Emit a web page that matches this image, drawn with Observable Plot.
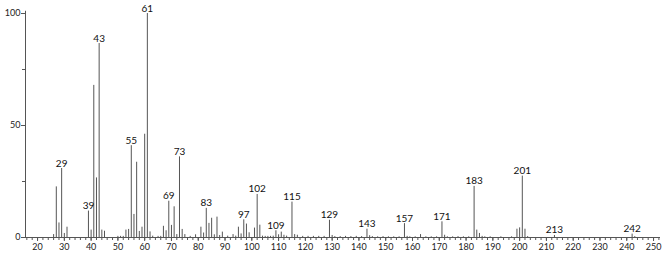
<!DOCTYPE html>
<html>
<head>
<meta charset="utf-8">
<script src="https://cdn.jsdelivr.net/npm/d3@7"></script>
<script src="https://cdn.jsdelivr.net/npm/@observablehq/plot@0.6"></script>
<style>
  html, body { margin: 0; padding: 0; background: #fff; }
  svg { display: block; }
</style>
</head>
<body>
<div id="chart"></div>
<script>
// m/z values and relative intensities
const mz = [
  26, 27, 28, 29, 30, 31, 39, 40, 41, 42, 43, 44, 45, 50, 51, 52, 53, 54, 55, 56, 57, 58, 59, 60, 61, 62, 63, 65, 66,
  67, 68, 69, 70, 71, 72, 73, 74, 75, 77, 79, 81, 82, 83, 84, 85, 86, 87, 88, 89, 91, 93, 94, 95, 96, 97, 98, 99,
  101, 102, 103, 104, 105, 106, 107, 108, 109, 110, 111, 112, 113, 115, 116, 117, 119, 121, 123, 125, 127, 129, 130,
  131, 133, 135, 137, 139, 141, 143, 144, 145, 147, 149, 151, 153, 155, 157, 158, 159, 161, 163, 165, 167, 169, 171, 172,
  173, 175, 177, 179, 181, 183, 184, 185, 186, 187, 189, 193, 197, 199, 200, 201, 202, 203, 213, 242, 243
];
const intensity = [
  1.3, 22.6, 6.5, 30.8, 1.8, 4.6, 11.8, 3.3, 67.9, 26.6, 86.6, 3.3, 2.8, 0.5, 0.5, 0.5, 3.3, 3.6, 41, 10.3, 33.6, 2.7, 4.6, 46.1, 100, 2.5, 0.6, 0.5, 0.5,
  5, 3, 16.2, 5.4, 13.7, 1.3, 36, 3.6, 1.3, 0.5, 1.2, 4.6, 2, 13, 6.3, 8.6, 1.2, 9.1, 0.9, 2.4, 0.6, 1.3, 0.6, 4.6, 1.6, 7.9, 6, 2.1,
  4.2, 19.2, 5.5, 0.6, 0.5, 0.5, 0.5, 0.6, 3, 1.2, 2.4, 1, 0.6, 15.8, 1.3, 1, 0.5, 0.5, 0.5, 0.5, 0.5, 7.7, 0.9,
  0.4, 0.4, 0.5, 0.4, 0.5, 0.4, 3.7, 0.8, 0.4, 0.3, 0.4, 0.3, 0.3, 0.3, 6.2, 0.5, 0.3, 0.3, 1.3, 0.3, 0.3, 0.3, 7, 1,
  0.3, 0.3, 0.4, 0.3, 0.3, 22.8, 3.3, 1.8, 0.5, 0.3, 0.3, 0.3, 0.3, 3.7, 4.3, 27.4, 3.7, 0.4, 0.9, 1.5, 0.4
];
const labeledMz = [29, 39, 43, 55, 61, 69, 73, 83, 97, 102, 109, 115, 129, 143, 157, 171, 183, 201, 213, 242];
const xMajorTicks = d3.range(20, 251, 10);
const xMinorTicks = d3.range(16, 253, 2);
const yMajorTicks = [0, 50, 100];
const yMinorTicks = [25, 75];

const peaks = mz.map((m, i) => ({mz: m, value: intensity[i]}));
const labels = peaks.filter(d => labeledMz.includes(d.mz));

const font = "Lato, 'DejaVu Sans', sans-serif";

const chart = Plot.plot({
  width: 666,
  height: 254,
  marginLeft: 25,
  marginRight: 6,
  marginTop: 13,
  marginBottom: 17,
  style: {fontFamily: font, fontSize: "9px", color: "#222", background: "#fff"},
  x: {domain: [15.5, 252.6], label: null},
  y: {domain: [0, 100], label: null},
  marks: [
    Plot.ruleX(peaks, {x: "mz", y1: 0, y2: "value", stroke: "#555", strokeWidth: 1}),
    Plot.text(labels, {x: "mz", y: "value", text: d => String(d.mz), lineAnchor: "bottom", dy: -2, fontSize: 10, fill: "#111"}),
    Plot.ruleY([0], {stroke: "#555"}),
    Plot.ruleX([15.5], {y1: 0, y2: 101, stroke: "#555"}),
    Plot.axisX({ticks: xMinorTicks, tickSize: 3, text: null, stroke: "#555", label: null}),
    Plot.axisX({ticks: xMajorTicks, tickSize: 4, tickPadding: 2, stroke: "#555", label: null, fontSize: 9}),
    Plot.axisY({ticks: yMinorTicks, tickSize: 3, text: null, stroke: "#555", label: null}),
    Plot.axisY({ticks: yMajorTicks, tickSize: 4, tickPadding: 1, stroke: "#555", label: null, fontSize: 9})
  ]
});
document.getElementById("chart").append(chart);
</script>
</body>
</html>
